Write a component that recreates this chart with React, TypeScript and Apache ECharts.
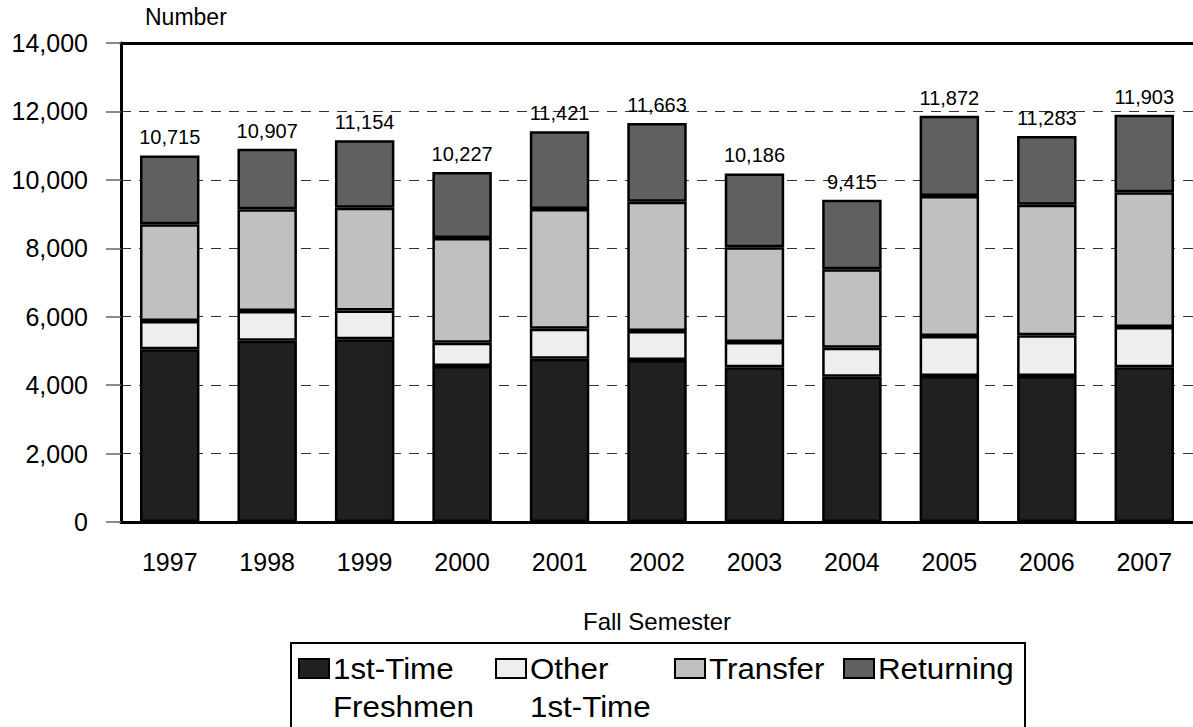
import React, { useEffect, useRef } from "react";
import * as echarts from "echarts";

const years = ["1997", "1998", "1999", "2000", "2001", "2002", "2003", "2004", "2005", "2006", "2007"];
const firstTimeFreshmen = [5048, 5300, 5340, 4560, 4773, 4735, 4522, 4248, 4268, 4268, 4522];
const otherFirstTime = [827, 868, 840, 681, 877, 848, 739, 848, 1169, 1189, 1178];
const transfer = [2826, 2972, 3007, 3060, 3498, 3780, 2768, 2290, 4091, 3818, 3936];
const returning = [2014, 1767, 1967, 1926, 2273, 2300, 2157, 2029, 2344, 2008, 2267];
const totals = [10715, 10907, 11154, 10227, 11421, 11663, 10186, 9415, 11872, 11283, 11903];

const seriesNames = ["1st-Time Freshmen", "Other 1st-Time", "Transfer", "Returning"];
const legendLines = [["1st-Time", "Freshmen"], ["Other", "1st-Time"], ["Transfer"], ["Returning"]];
const seriesColors = ["#202020", "#eeeeee", "#c0c0c0", "#606060"];
const seriesData = [firstTimeFreshmen, otherFirstTime, transfer, returning];

const FONT = "'Liberation Sans', Arial, sans-serif";
const fmt = (v: number) => v.toLocaleString("en-US");

export default function App() {
  const ref = useRef<HTMLDivElement>(null);
  useEffect(() => {
    if (!ref.current) return;
    const chart = echarts.init(ref.current, null, { renderer: "svg" });

    const legendX = [299, 496, 675, 844];
    const legendGraphics: any[] = [
      {
        type: "rect",
        shape: { x: 291, y: 643, width: 734, height: 120 },
        style: { fill: "#fff", stroke: "#000", lineWidth: 2 },
        z: 10,
      },
    ];
    seriesNames.forEach((_, i) => {
      legendGraphics.push({
        type: "rect",
        shape: { x: legendX[i], y: 659, width: 30, height: 19 },
        style: { fill: seriesColors[i], stroke: "#000", lineWidth: 2 },
        z: 11,
      });
      legendLines[i].forEach((line, j) => {
        legendGraphics.push({
          type: "text",
          x: legendX[i] + 34,
          y: 669 + j * 38,
          scaleX: 1.08,
          style: {
            text: line,
            font: `29px ${FONT}`,
            fill: "#000",
            textVerticalAlign: "middle",
            textAlign: "left",
          },
          z: 11,
        });
      });
    });

    chart.setOption({
      animation: false,
      backgroundColor: "#fff",
      grid: { left: 121, top: 43, width: 1076, height: 479 },
      xAxis: [
        {
          type: "category",
          data: years,
          name: "Fall Semester",
          nameLocation: "middle",
          nameGap: 87,
          nameTextStyle: { fontFamily: FONT, fontSize: 24, color: "#000" },
          axisLine: { lineStyle: { color: "#000", width: 3 } },
          axisTick: { alignWithLabel: true, length: 13, lineStyle: { color: "#777", width: 1.5 } },
          axisLabel: { fontFamily: FONT, fontSize: 25, color: "#000", margin: 27 },
        },
        {
          type: "category",
          data: years,
          position: "top",
          axisLine: { show: true, lineStyle: { color: "#000", width: 3 } },
          axisTick: { show: false },
          axisLabel: { show: false },
          splitLine: { show: false },
        },
      ],
      yAxis: {
        type: "value",
        min: 0,
        max: 14000,
        interval: 2000,
        axisLine: { show: true, lineStyle: { color: "#000", width: 3 } },
        axisTick: { show: true, length: 15, lineStyle: { color: "#666", width: 1.5 } },
        axisLabel: {
          fontFamily: FONT,
          fontSize: 25,
          color: "#000",
          margin: 33,
          formatter: (v: number) => fmt(v),
        },
        splitLine: { show: true, lineStyle: { color: "#333", width: 1.2, type: [10, 8] } },
      },
      series: seriesNames.map((name, i) => ({
        name,
        type: "bar",
        stack: "total",
        barWidth: "61%",
        xAxisIndex: 0,
        data: seriesData[i],
        itemStyle: { color: seriesColors[i], borderColor: "#000", borderWidth: 2.5 },
        label:
          i === seriesNames.length - 1
            ? {
                show: true,
                position: "top",
                distance: 8,
                fontFamily: FONT,
                fontSize: 20,
                color: "#000",
                formatter: (p: any) => fmt(totals[p.dataIndex]),
              }
            : { show: false },
      })),
      graphic: [
        {
          type: "text",
          x: 145,
          y: 17,
          style: {
            text: "Number",
            font: `23px ${FONT}`,
            fill: "#000",
            textVerticalAlign: "middle",
            textAlign: "left",
          },
        },
        ...legendGraphics,
      ],
    });
    return () => chart.dispose();
  }, []);
  return (
    <div
      ref={ref}
      style={{ position: "fixed", left: 0, top: 0, width: 1193, height: 727, background: "#fff" }}
    />
  );
}
